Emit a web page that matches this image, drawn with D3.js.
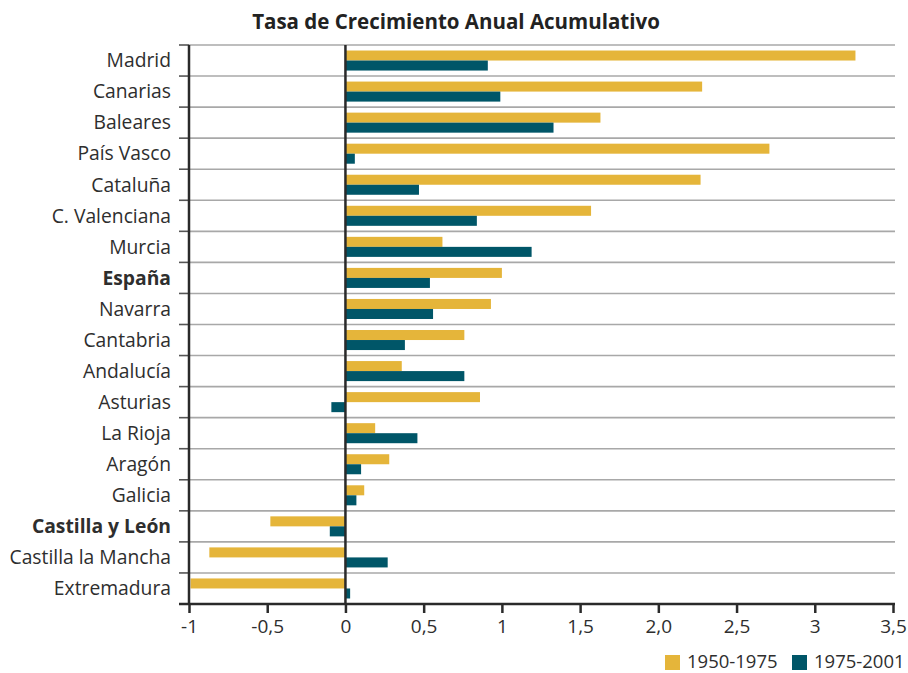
<!DOCTYPE html>
<html>
<head>
<meta charset="utf-8">
<script src="https://cdn.jsdelivr.net/npm/d3@7/dist/d3.min.js"></script>
<style>
  html, body { margin: 0; padding: 0; background: #fff; }
  svg { display: block; font-family: 'Open Sans', sans-serif; }
</style>
</head>
<body>
<div id="chart"></div>
<script>
// ---- datos ----
const regions = [
  'Madrid', 'Canarias', 'Baleares', 'País Vasco', 'Cataluña', 'C. Valenciana',
  'Murcia', 'España', 'Navarra', 'Cantabria', 'Andalucía', 'Asturias',
  'La Rioja', 'Aragón', 'Galicia', 'Castilla y León', 'Castilla la Mancha', 'Extremadura'
];
const boldRegions = ['España', 'Castilla y León'];
const series = ['1950-1975', '1975-2001'];
const values1950 = [3.26, 2.28, 1.63, 2.71, 2.27, 1.57, 0.62, 1.00, 0.93, 0.76, 0.36, 0.86, 0.19, 0.28, 0.12, -0.48, -0.87, -0.99];
const values1975 = [0.91, 0.99, 1.33, 0.06, 0.47, 0.84, 1.19, 0.54, 0.56, 0.38, 0.76, -0.09, 0.46, 0.10, 0.07, -0.10, 0.27, 0.03];
const xTicks = [-1, -0.5, 0, 0.5, 1, 1.5, 2, 2.5, 3, 3.5];
const xTickLabels = ['-1', '-0,5', '0', '0,5', '1', '1,5', '2,0', '2,5', '3', '3,5'];
const colors = { '1950-1975': '#e5b53a', '1975-2001': '#005668' };

const width = 908, height = 673;
const margin = { top: 45, right: 15, bottom: 69, left: 189 };
const textColor = '#2e2e2e';

const svg = d3.select('#chart').append('svg')
  .attr('width', width)
  .attr('height', height);

const x = d3.scaleLinear().domain([-1, 3.5]).range([margin.left, width - margin.right]);
const y = d3.scaleBand().domain(regions).range([margin.top, height - margin.bottom]).padding(0);
const ySub = d3.scaleBand().domain(series).range([0, y.bandwidth()]).paddingInner(0).paddingOuter(0.55);

const rows = regions.map((r, i) => ({ region: r, values: [
  { key: series[0], value: values1950[i] },
  { key: series[1], value: values1975[i] }
]}));

// título
svg.append('text')
  .attr('x', 456).attr('y', 29)
  .attr('text-anchor', 'middle')
  .attr('font-size', '20.5px')
  .attr('font-weight', 700)
  .attr('fill', '#222')
  .text('Tasa de Crecimiento Anual Acumulativo');

// gridlines
const gridYs = regions.map(r => y(r));
svg.append('g').selectAll('line.grid')
  .data(gridYs)
  .join('line')
  .attr('class', 'grid')
  .attr('x1', x(-1)).attr('x2', x(3.5) + 2)
  .attr('y1', d => d).attr('y2', d => d)
  .attr('stroke', '#a8a8a8')
  .attr('stroke-width', 1.6);

// ticks izquierda
svg.append('g').selectAll('line.ltick')
  .data(gridYs)
  .join('line')
  .attr('x1', x(-1) - 10).attr('x2', x(-1))
  .attr('y1', d => d).attr('y2', d => d)
  .attr('stroke', '#555')
  .attr('stroke-width', 1.6);

// barras
const groups = svg.append('g').selectAll('g.row')
  .data(rows)
  .join('g')
  .attr('transform', d => `translate(0,${y(d.region)})`);

groups.selectAll('rect')
  .data(d => d.values)
  .join('rect')
  .attr('x', d => x(Math.min(0, d.value)))
  .attr('width', d => Math.abs(x(d.value) - x(0)))
  .attr('y', d => ySub(d.key))
  .attr('height', ySub.bandwidth())
  .attr('fill', d => colors[d.key]);

// etiquetas de regiones
svg.append('g').selectAll('text.lab')
  .data(regions)
  .join('text')
  .attr('x', 171)
  .attr('y', d => y(d) + y.bandwidth() / 2)
  .attr('dy', '0.35em')
  .attr('text-anchor', 'end')
  .attr('font-size', '19.3px')
  .attr('font-weight', d => boldRegions.includes(d) ? 700 : 400)
  .attr('fill', textColor)
  .text(d => d);

// eje izquierdo y línea cero
svg.append('line')
  .attr('x1', x(-1)).attr('x2', x(-1))
  .attr('y1', margin.top).attr('y2', height - margin.bottom)
  .attr('stroke', '#2a2a2a').attr('stroke-width', 2.5);
svg.append('line')
  .attr('x1', x(0)).attr('x2', x(0))
  .attr('y1', margin.top).attr('y2', height - margin.bottom)
  .attr('stroke', '#2a2a2a').attr('stroke-width', 2.5);

// eje x
const xAxis = d3.axisBottom(x)
  .tickValues(xTicks)
  .tickFormat((d, i) => xTickLabels[i])
  .tickSize(9)
  .tickPadding(7)
  .tickSizeOuter(0);

const gx = svg.append('g')
  .attr('transform', `translate(0,${height - margin.bottom})`)
  .call(xAxis);
gx.select('.domain')
  .attr('d', `M${x(-1) - 10},0H${x(3.5) + 2}`)
  .attr('stroke', '#2a2a2a').attr('stroke-width', 2.5);
gx.selectAll('.tick line').attr('stroke', '#2a2a2a').attr('stroke-width', 2.5);
gx.selectAll('.tick text')
  .attr('font-size', '19px')
  .attr('font-family', "'Open Sans', sans-serif")
  .attr('fill', textColor);

// leyenda
const legend = svg.append('g');
const legX = [665, 792];
series.forEach((s, i) => {
  legend.append('rect')
    .attr('x', legX[i]).attr('y', 655)
    .attr('width', 15).attr('height', 15)
    .attr('fill', colors[s]);
  legend.append('text')
    .attr('x', legX[i] + 22).attr('y', 668)
    .attr('font-size', '18.5px')
    .attr('fill', textColor)
    .text(s);
});
</script>
</body>
</html>
